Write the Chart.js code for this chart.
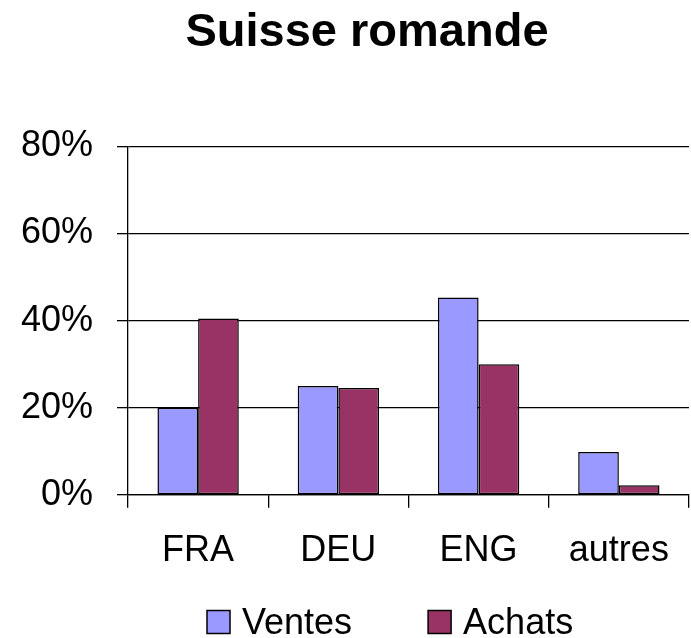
<!DOCTYPE html>
<html>
<head>
<meta charset="utf-8">
<script src="https://cdn.jsdelivr.net/npm/chart.js@4.4.1/dist/chart.umd.min.js"></script>
<style>
  html, body { margin: 0; padding: 0; background: #ffffff; }
  #wrap { width: 691px; height: 638px; }
</style>
</head>
<body>
<div id="wrap"><canvas id="c" width="691" height="638"></canvas></div>
<script>
const titleText = 'Suisse romande';
const categories = ['FRA', 'DEU', 'ENG', 'autres'];
const seriesNames = ['Ventes', 'Achats'];
const ventes = [20, 25, 45.3, 9.8];
const achats = [40.5, 24.5, 30, 2.2];
const yTicks = [0, 20, 40, 60, 80];

const FONT = "'Liberation Sans', Arial, Helvetica, sans-serif";

const shiftTitle = {
  id: 'shiftTitle',
  afterLayout(chart) {
    const t = chart.titleBlock;
    if (t) { t.left = 43; t.right = 691; }
  }
};

const customLegend = {
  id: 'customLegend',
  afterDraw(chart) {
    const ctx = chart.ctx;
    ctx.save();
    ctx.font = '36px ' + FONT;
    ctx.textBaseline = 'middle';
    ctx.textAlign = 'left';
    const cy = 622;
    let x = 207;
    const box = 23;
    chart.data.datasets.forEach((ds, i) => {
      ctx.fillStyle = ds.backgroundColor;
      ctx.fillRect(x, cy - box / 2, box, box);
      ctx.lineWidth = 1.5;
      ctx.strokeStyle = '#000000';
      ctx.strokeRect(x, cy - box / 2, box, box);
      const tx = x + box + 12;
      ctx.fillStyle = '#000000';
      ctx.fillText(ds.label, tx, cy + 2);
      x = tx + ctx.measureText(ds.label).width + 76;
    });
    ctx.restore();
  }
};

new Chart(document.getElementById('c'), {
  type: 'bar',
  data: {
    labels: categories,
    datasets: [
      { label: seriesNames[0], data: ventes, backgroundColor: '#9999FF', borderColor: '#000000', borderWidth: 1.5, borderSkipped: false },
      { label: seriesNames[1], data: achats, backgroundColor: '#993366', borderColor: '#000000', borderWidth: 1.5, borderSkipped: false }
    ]
  },
  options: {
    responsive: false,
    animation: false,
    events: [],
    layout: { padding: { left: 21, right: 1, top: 0, bottom: 43 } },
    datasets: { bar: { barPercentage: 1.0, categoryPercentage: 0.58 } },
    plugins: {
      legend: { display: false },
      tooltip: { enabled: false },
      title: {
        display: true,
        text: titleText,
        color: '#000000',
        font: { family: FONT, size: 47, weight: 'bold' },
        padding: { top: 5, bottom: 85 }
      }
    },
    scales: {
      x: {
        offset: true,
        grid: { offset: true, drawOnChartArea: false, drawTicks: true, tickLength: 13, color: '#000000', lineWidth: 1.3 },
        border: { display: true, color: '#000000', width: 1.3 },
        ticks: { color: '#000000', font: { family: FONT, size: 36 }, padding: 22, maxRotation: 0, autoSkip: false }
      },
      y: {
        min: yTicks[0],
        max: yTicks[yTicks.length - 1],
        afterFit(scale) { scale.width = 107; },
        grid: { drawTicks: true, tickLength: 11, color: '#000000', lineWidth: 1.3 },
        border: { display: true, color: '#000000', width: 1.3 },
        ticks: {
          color: '#000000',
          font: { family: FONT, size: 36 },
          padding: 24,
          stepSize: yTicks[1] - yTicks[0],
          callback: (v) => v + '%'
        }
      }
    }
  },
  plugins: [shiftTitle, customLegend]
});
</script>
</body>
</html>
